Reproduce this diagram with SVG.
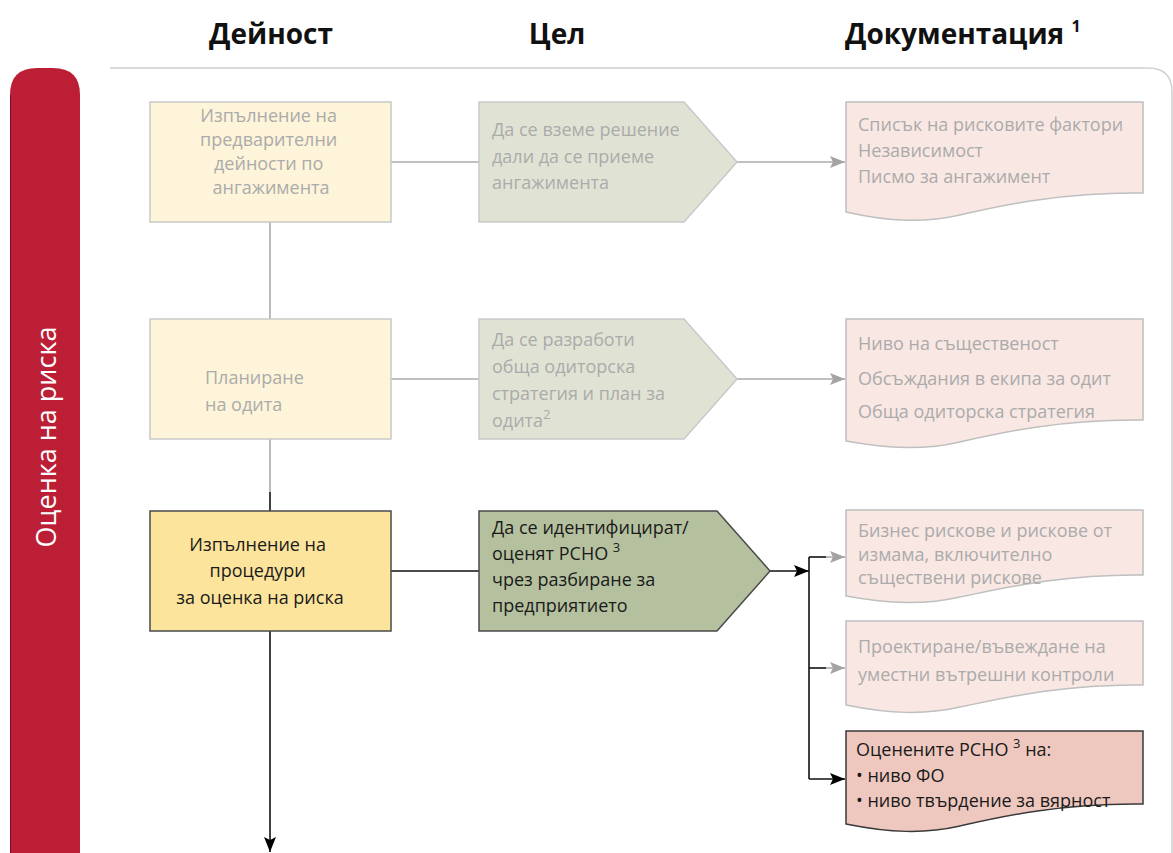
<svg xmlns="http://www.w3.org/2000/svg" width="1173" height="853" viewBox="0 0 1173 853">
  <style>
    text { font-family: "Open Sans", "Noto Sans", sans-serif; }
    .hdr { font-size: 28px; font-weight: bold; fill: #111; }
    .t { font-size: 18px; }
    .faded { fill: #ABABAB; }
    .dark { fill: #1A1A1A; }
    .boxF { fill: #FDF4D9; stroke: #C9C9C9; stroke-width: 1.5; }
    .boxA { fill: #FCE49C; stroke: #4A4A4A; stroke-width: 1.5; }
    .penF { fill: #E0E3D3; stroke: #C9C9C9; stroke-width: 1.5; }
    .penA { fill: #B5C19E; stroke: #4A4A4A; stroke-width: 1.5; }
    .docF { fill: #F9E7E3; stroke: #BFBFBF; stroke-width: 1.5; }
    .docA { fill: #EEC8BF; stroke: #3A3A3A; stroke-width: 1.5; }
    .lnF { fill: none; stroke: #ABABAB; stroke-width: 1.6; }
    .lnA { fill: none; stroke: #111; stroke-width: 1.6; }
  </style>
  <defs>
    <marker id="arrG" markerUnits="userSpaceOnUse" markerWidth="16" markerHeight="12" refX="15" refY="6" orient="auto">
      <path d="M0,0 L15,6 L0,12 L3,6 Z" fill="#A3A3A3"/>
    </marker>
    <marker id="arrK" markerUnits="userSpaceOnUse" markerWidth="16" markerHeight="12" refX="15" refY="6" orient="auto">
      <path d="M0,0 L15,6 L0,12 L3,6 Z" fill="#000"/>
    </marker>
  </defs>

  <rect width="1173" height="853" fill="#fff"/>

  <!-- column headers -->
  <g id="headers">
    <text class="hdr" x="271" y="44" text-anchor="middle">Дейност</text>
    <text class="hdr" x="557" y="44" text-anchor="middle">Цел</text>
    <text class="hdr" x="845" y="44">Документация <tspan font-size="16" dy="-12">1</tspan></text>
  </g>

  <!-- phase frame -->
  <g id="frame">
    <path d="M110,68 H1148 Q1172,68 1172,92 V853" fill="none" stroke="#D0D0D0" stroke-width="1.5"/>
    <path d="M10,853 V95 Q10,68 37,68 H53 Q80,68 80,95 V853 Z" fill="#BC1F35"/>
    <line x1="10.5" y1="95" x2="10.5" y2="853" stroke="#7A1020" stroke-width="1"/>
    <text x="45" y="437" transform="rotate(-90 45 437)" text-anchor="middle" dominant-baseline="central" font-size="27" font-weight="500" fill="#fff">Оценка на риска</text>
  </g>

  <!-- connectors -->
  <g id="connectors">
    <line class="lnF" x1="270" y1="222" x2="270" y2="319"/>
    <line class="lnF" x1="270" y1="439" x2="270" y2="492"/>
    <line class="lnA" x1="270" y1="492" x2="270" y2="511"/>
    <line class="lnA" x1="270" y1="631" x2="270" y2="852" marker-end="url(#arrK)"/>

    <line class="lnF" x1="391" y1="162" x2="479" y2="162"/>
    <line class="lnF" x1="737" y1="162" x2="845" y2="162" marker-end="url(#arrG)"/>

    <line class="lnF" x1="391" y1="379" x2="479" y2="379"/>
    <line class="lnF" x1="737" y1="379" x2="845" y2="379" marker-end="url(#arrG)"/>

    <line class="lnA" x1="391" y1="571" x2="479" y2="571"/>
    <line class="lnA" x1="770" y1="571" x2="809" y2="571" marker-end="url(#arrK)"/>
    <path class="lnA" d="M809,557 V779"/>
    <line class="lnA" x1="809" y1="557" x2="826" y2="557"/>
    <line class="lnF" x1="826" y1="557" x2="845" y2="557" marker-end="url(#arrG)"/>
    <line class="lnA" x1="809" y1="668" x2="826" y2="668"/>
    <line class="lnF" x1="826" y1="668" x2="845" y2="668" marker-end="url(#arrG)"/>
    <line class="lnA" x1="809" y1="779" x2="845" y2="779" marker-end="url(#arrK)"/>
  </g>

  <!-- activity column -->
  <g id="act-preliminary">
    <rect class="boxF" x="150" y="102" width="241" height="120"/>
    <text class="t faded" text-anchor="middle">
      <tspan x="271" y="122">Изпълнение на</tspan>
      <tspan x="271" y="146">предварителни</tspan>
      <tspan x="271" y="170">дейности по</tspan>
      <tspan x="271" y="194">ангажимента</tspan>
    </text>
  </g>
  <g id="act-planning">
    <rect class="boxF" x="150" y="319" width="241" height="120"/>
    <text class="t faded">
      <tspan x="205" y="384">Планиране</tspan>
      <tspan x="205" y="411">на одита</tspan>
    </text>
  </g>
  <g id="act-risk">
    <rect class="boxA" x="150" y="511" width="241" height="120"/>
    <text class="t dark" text-anchor="middle" font-size="18.5">
      <tspan x="260" y="551">Изпълнение на</tspan>
      <tspan x="260" y="577">процедури</tspan>
      <tspan x="260" y="604">за оценка на риска</tspan>
    </text>
  </g>

  <!-- objective column -->
  <g id="obj-accept">
    <path class="penF" d="M479,102 H684 L737,162 L684,222 H479 Z"/>
    <text class="t faded">
      <tspan x="492" y="136">Да се вземе решение</tspan>
      <tspan x="492" y="163">дали да се приеме</tspan>
      <tspan x="492" y="189">ангажимента</tspan>
    </text>
  </g>
  <g id="obj-strategy">
    <path class="penF" d="M479,319 H684 L737,379 L684,439 H479 Z"/>
    <text class="t faded">
      <tspan x="492" y="346">Да се разработи</tspan>
      <tspan x="492" y="373">обща одиторска</tspan>
      <tspan x="492" y="400">стратегия и план за</tspan>
      <tspan x="492" y="427">одита<tspan font-size="13" dy="-8">2</tspan></tspan>
    </text>
  </g>
  <g id="obj-identify">
    <path class="penA" d="M479,511 H717 L770,571 L717,631 H479 Z"/>
    <text class="t dark">
      <tspan x="492" y="534">Да се идентифицират/</tspan>
      <tspan x="492" y="560">оценят РСНО <tspan font-size="13" dy="-8">3</tspan></tspan>
      <tspan x="492" y="586">чрез разбиране за</tspan>
      <tspan x="492" y="612">предприятието</tspan>
    </text>
  </g>

  <!-- documentation column -->
  <g id="doc-acceptance">
    <path class="docF" d="M846,102 H1143 V193 C1060,192 1000,206 960,215 C925,223 890,222 846,212 Z"/>
    <text class="t faded" font-size="18.5">
      <tspan x="858" y="131">Списък на рисковите фактори</tspan>
      <tspan x="858" y="157">Независимост</tspan>
      <tspan x="858" y="183">Писмо за ангажимент</tspan>
    </text>
  </g>
  <g id="doc-strategy">
    <path class="docF" d="M846,319 H1143 V420 C1060,419 1000,433 960,442 C925,450 890,449 846,441 Z"/>
    <text class="t faded" font-size="18.5">
      <tspan x="858" y="350">Ниво на същественост</tspan>
      <tspan x="858" y="385">Обсъждания в екипа за одит</tspan>
      <tspan x="858" y="418">Обща одиторска стратегия</tspan>
    </text>
  </g>
  <g id="doc-risks">
    <path class="docF" d="M846,510 H1143 V575 C1060,574 1000,589 960,597 C925,605 890,604 846,596 Z"/>
    <text class="t faded" font-size="17">
      <tspan x="858" y="537">Бизнес рискове и рискове от</tspan>
      <tspan x="858" y="560.5">измама, включително</tspan>
      <tspan x="858" y="584">съществени рискове</tspan>
    </text>
  </g>
  <g id="doc-controls">
    <path class="docF" d="M846,621 H1143 V685 C1060,684 1000,699 960,707 C925,715 890,714 846,705 Z"/>
    <text class="t faded" font-size="18.5">
      <tspan x="858" y="653">Проектиране/въвеждане на</tspan>
      <tspan x="858" y="681">уместни вътрешни контроли</tspan>
    </text>
  </g>
  <g id="doc-assessed">
    <path class="docA" d="M846,731 H1143 V804 C1060,803 1000,817 960,826 C925,834 890,833 846,824 Z"/>
    <text class="t dark" font-size="17.5">
      <tspan x="856" y="756">Оценените РСНО <tspan font-size="13" dy="-8">3</tspan><tspan dy="8"> на:</tspan></tspan>
      <tspan x="856" y="782">• ниво ФО</tspan>
      <tspan x="856" y="807">• ниво твърдение за вярност</tspan>
    </text>
  </g>
</svg>
